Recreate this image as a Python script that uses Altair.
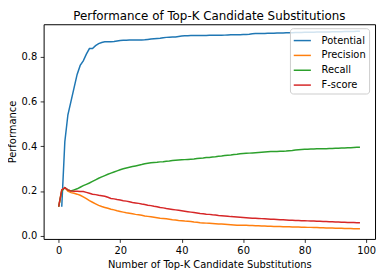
import altair as alt
import pandas as pd

k_values = list(range(0, 99))

potential = [
    None, 0.13, 0.42, 0.54, 0.60, 0.66, 0.72, 0.76, 0.78, 0.81,
    0.835, 0.835, 0.848, 0.857, 0.862, 0.865, 0.866, 0.866, 0.867, 0.869,
    0.871, 0.872, 0.872, 0.873, 0.873, 0.873, 0.873, 0.873, 0.874, 0.876,
    0.878, 0.879, 0.880, 0.881, 0.883, 0.885, 0.886, 0.887, 0.887, 0.889,
    0.891, 0.892, 0.892, 0.893, 0.893, 0.893, 0.893, 0.893, 0.893, 0.894,
    0.894, 0.894, 0.894, 0.894, 0.895, 0.896, 0.897, 0.897, 0.897, 0.897,
    0.898, 0.898, 0.899, 0.901, 0.902, 0.902, 0.902, 0.902, 0.903, 0.903,
    0.903, 0.904, 0.905, 0.905, 0.906, 0.906, 0.906, 0.907, 0.907, 0.907,
    0.908, 0.908, 0.908, 0.908, 0.909, 0.909, 0.909, 0.909, 0.909, 0.910,
    0.910, 0.910, 0.910, 0.911, 0.911, 0.911, 0.911, 0.912, 0.912,
]

precision = [
    0.13, 0.205, 0.215, 0.200, 0.193, 0.190, 0.186, 0.181, 0.174, 0.166,
    0.157, 0.150, 0.143, 0.136, 0.131, 0.127, 0.123, 0.119, 0.116, 0.112,
    0.109, 0.106, 0.103, 0.101, 0.099, 0.096, 0.094, 0.092, 0.089, 0.087,
    0.085, 0.083, 0.081, 0.079, 0.078, 0.076, 0.074, 0.072, 0.071, 0.069,
    0.068, 0.066, 0.065, 0.064, 0.062, 0.061, 0.059, 0.058, 0.057, 0.056,
    0.055, 0.054, 0.053, 0.053, 0.052, 0.051, 0.050, 0.049, 0.048, 0.048,
    0.047, 0.047, 0.046, 0.046, 0.045, 0.045, 0.044, 0.044, 0.043, 0.043,
    0.042, 0.042, 0.042, 0.041, 0.041, 0.041, 0.040, 0.040, 0.040, 0.039,
    0.039, 0.038, 0.038, 0.037, 0.037, 0.036, 0.036, 0.035, 0.035, 0.035,
    0.034, 0.034, 0.034, 0.033, 0.033, 0.033, 0.032, 0.032, 0.032,
]

recall = [
    0.13, 0.200, 0.215, 0.205, 0.200, 0.205, 0.210, 0.217, 0.224, 0.230,
    0.236, 0.243, 0.250, 0.257, 0.263, 0.269, 0.275, 0.280, 0.285, 0.290,
    0.295, 0.299, 0.303, 0.306, 0.309, 0.312, 0.315, 0.318, 0.322, 0.324,
    0.326, 0.327, 0.328, 0.330, 0.331, 0.333, 0.334, 0.336, 0.337, 0.338,
    0.339, 0.340, 0.341, 0.342, 0.343, 0.345, 0.346, 0.347, 0.349, 0.350,
    0.352, 0.353, 0.355, 0.356, 0.358, 0.360, 0.361, 0.363, 0.364, 0.366,
    0.367, 0.368, 0.369, 0.370, 0.371, 0.372, 0.373, 0.374, 0.375, 0.376,
    0.376, 0.376, 0.377, 0.377, 0.378, 0.380, 0.381, 0.383, 0.384, 0.385,
    0.386, 0.386, 0.387, 0.387, 0.388, 0.388, 0.389, 0.389, 0.390, 0.390,
    0.391, 0.391, 0.392, 0.392, 0.393, 0.393, 0.394, 0.395, 0.395,
]

fscore = [
    0.13, 0.205, 0.215, 0.205, 0.200, 0.199, 0.199, 0.198, 0.198, 0.194,
    0.190, 0.186, 0.184, 0.181, 0.179, 0.177, 0.172, 0.167, 0.165, 0.162,
    0.160, 0.157, 0.155, 0.152, 0.149, 0.147, 0.145, 0.142, 0.140, 0.137,
    0.135, 0.132, 0.130, 0.127, 0.125, 0.122, 0.120, 0.118, 0.116, 0.114,
    0.112, 0.110, 0.108, 0.106, 0.104, 0.102, 0.100, 0.099, 0.097, 0.096,
    0.094, 0.093, 0.091, 0.090, 0.089, 0.088, 0.086, 0.085, 0.084, 0.083,
    0.082, 0.081, 0.080, 0.079, 0.079, 0.078, 0.077, 0.076, 0.075, 0.074,
    0.074, 0.073, 0.072, 0.072, 0.071, 0.070, 0.070, 0.069, 0.069, 0.068,
    0.068, 0.067, 0.066, 0.066, 0.065, 0.065, 0.064, 0.064, 0.063, 0.063,
    0.062, 0.062, 0.061, 0.061, 0.060, 0.060, 0.060, 0.059, 0.059,
]

series_names = ["Potential", "Precision", "Recall", "F-score"]
series_colors = ["#1f77b4", "#ff7f0e", "#2ca02c", "#d62728"]
x_ticks = [0, 20, 40, 60, 80, 100]
y_ticks = [0.0, 0.2, 0.4, 0.6, 0.8]

rows = []
for name, vals in zip(series_names, [potential, precision, recall, fscore]):
    for k, v in zip(k_values, vals):
        if v is not None:
            rows.append({"k": k, "value": v, "series": name})
df = pd.DataFrame(rows)

FONT = "DejaVu Sans"

chart = alt.Chart(df).mark_line(strokeWidth=1.5, clip=True).encode(
    x=alt.X("k:Q",
            scale=alt.Scale(domain=[-4.9, 102.9], nice=False, zero=False),
            axis=alt.Axis(values=x_ticks, format="d",
                          title="Number of Top-K Candidate Substitutions")),
    y=alt.Y("value:Q",
            scale=alt.Scale(domain=[-0.0135, 0.9435], nice=False, zero=False),
            axis=alt.Axis(values=y_ticks, format=".1f", title="Performance")),
    color=alt.Color("series:N",
                    scale=alt.Scale(domain=series_names, range=series_colors),
                    legend=alt.Legend(title=None, orient="none",
                                      legendX=249, legendY=4,
                                      symbolType="stroke", symbolSize=300,
                                      symbolStrokeWidth=1.5,
                                      labelFontSize=10, labelFont=FONT,
                                      labelColor="black", labelOffset=10,
                                      rowPadding=-1, padding=3,
                                      fillColor="rgba(255,255,255,0.8)",
                                      strokeColor="#cccccc", cornerRadius=3)),
    detail="series:N",
).properties(
    width=335,
    height=217,
    title=alt.TitleParams("Performance of Top-K Candidate Substitutions",
                          fontSize=12, font=FONT, fontWeight="normal",
                          color="black", anchor="middle", offset=1),
    autosize=alt.AutoSizeParams(type="none"),
    padding={"left": 36, "top": 15, "right": 3, "bottom": 32},
).configure_view(
    stroke="black", strokeWidth=1
).configure_axis(
    grid=False, domain=False, tickColor="black", tickSize=3.5, tickWidth=0.8,
    labelFont=FONT, labelFontSize=10, labelColor="black", labelPadding=3.5,
    titleFont=FONT, titleFontSize=10, titleFontWeight="normal", titleColor="black",
    titlePadding=4,
)

chart.save("out.html", embed_options={"renderer": "svg", "actions": False})
